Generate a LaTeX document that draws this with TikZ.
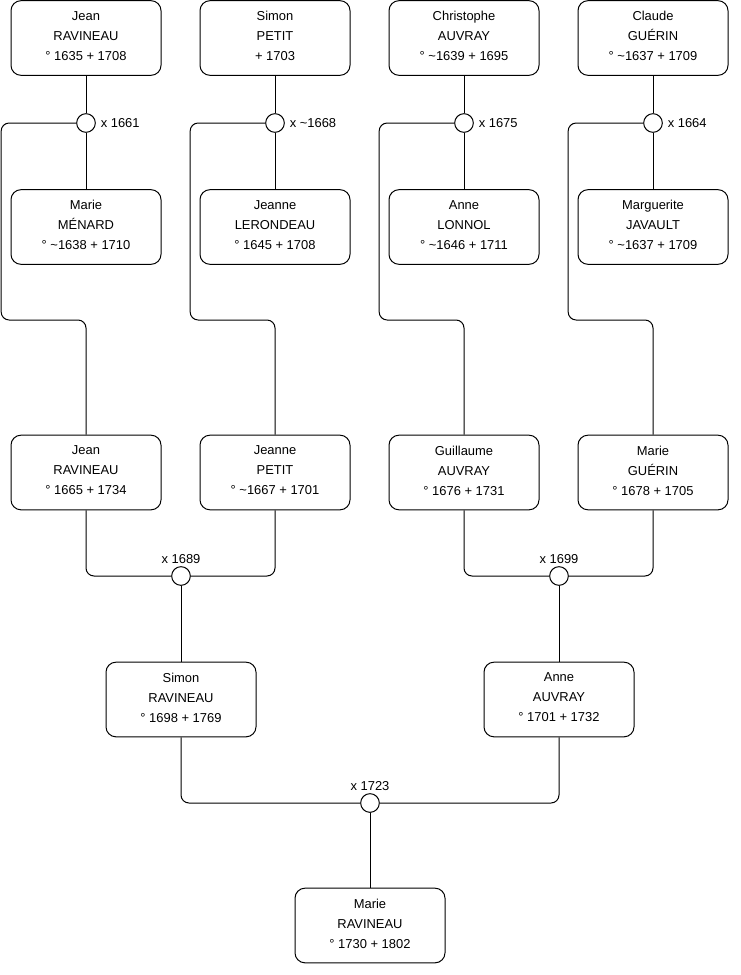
\documentclass[tikz,border=0pt]{standalone}
\usepackage{fontspec}
\setmainfont{Liberation Sans}
\usetikzlibrary{positioning}
\tikzset{
  person/.style={rectangle,draw,rounded corners=7.5pt,align=center,minimum width=112.5pt,minimum height=56pt,inner sep=0pt,text depth=3pt},
  union/.style={circle,draw,fill=white,minimum size=14pt,inner sep=0pt},
  link/.style={rounded corners=6pt},
  wed above/.style={label={[label distance=-1.75pt]above:#1}},
  wed right/.style={label={[label distance=0pt]right:#1}}
}

\begin{document}
\begin{tikzpicture}[x=0.75pt,y=-0.75pt,line width=0.75pt,font=\fontsize{9.7}{15}\selectfont]
\useasboundingbox (0,0) rectangle (740,975);
% generation 1
\node[person] (jeanA) at (86,38) {Jean\\RAVINEAU\\° 1635 + 1708};
\node[person] (simonA) at (275,38) {Simon\\PETIT\\+ 1703};
\node[person] (christophe) at (464,38) {Christophe\\AUVRAY\\° \textasciitilde1639 + 1695};
\node[person] (claude) at (653,38) {Claude\\GUÉRIN\\° \textasciitilde1637 + 1709};
\node[union, wed right={x 1661}] (uA) at (86,123) {};
\node[union, wed right={x \textasciitilde1668}] (uB) at (275,123) {};
\node[union, wed right={x 1675}] (uC) at (464,123) {};
\node[union, wed right={x 1664}] (uD) at (653,123) {};
\node[person] (marieA) at (86,227) {Marie\\MÉNARD\\° \textasciitilde1638 + 1710};
\node[person] (jeanneA) at (275,227) {Jeanne\\LERONDEAU\\° 1645 + 1708};
\node[person] (anneA) at (464,227) {Anne\\LONNOL\\° \textasciitilde1646 + 1711};
\node[person] (marguerite) at (653,227) {Marguerite\\JAVAULT\\° \textasciitilde1637 + 1709};
% generation 2
\node[person] (jeanB) at (86,472.5) {Jean\\RAVINEAU\\° 1665 + 1734};
\node[person] (jeanneB) at (275,472.5) {Jeanne\\PETIT\\° \textasciitilde1667 + 1701};
\node[person] (guillaume) at (464,472.5) {Guillaume\\AUVRAY\\° 1676 + 1731};
\node[person] (marieB) at (653,472.5) {Marie\\GUÉRIN\\° 1678 + 1705};
\node[union, wed above={x 1689}] (uE) at (181,576) {};
\node[union, wed above={x 1699}] (uF) at (559,576) {};
% generation 3
\node[person] (simonB) at (181,699.5) {Simon\\RAVINEAU\\° 1698 + 1769};
\node[person] (anneB) at (559,699.5) {Anne\\AUVRAY\\° 1701 + 1732};
\node[union, wed above={x 1723}] (uG) at (370,803) {};
\node[person] (marieC) at (370,925.5) {Marie\\RAVINEAU\\° 1730 + 1802};

\draw (jeanA) -- (uA) -- (marieA);
\draw (simonA) -- (uB) -- (jeanneA);
\draw (christophe) -- (uC) -- (anneA);
\draw (claude) -- (uD) -- (marguerite);
\draw[link] (uA.west) -| ++(-75,197) -| (jeanB.north);
\draw[link] (uB.west) -| ++(-75,197) -| (jeanneB.north);
\draw[link] (uC.west) -| ++(-75,197) -| (guillaume.north);
\draw[link] (uD.west) -| ++(-75,197) -| (marieB.north);
\draw[link] (jeanB.south) |- (uE.west);
\draw[link] (jeanneB.south) |- (uE.east);
\draw (uE) -- (simonB);
\draw[link] (guillaume.south) |- (uF.west);
\draw[link] (marieB.south) |- (uF.east);
\draw (uF) -- (anneB);
\draw[link] (simonB.south) |- (uG.west);
\draw[link] (anneB.south) |- (uG.east);
\draw (uG) -- (marieC);
\end{tikzpicture}
\end{document}
